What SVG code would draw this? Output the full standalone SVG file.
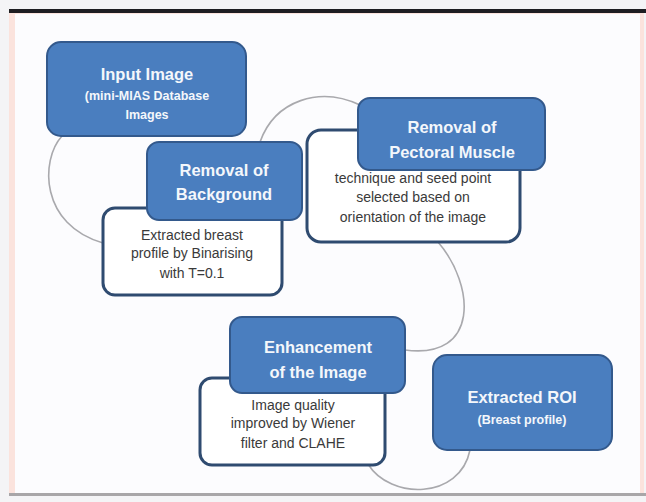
<svg xmlns="http://www.w3.org/2000/svg" width="646" height="502" viewBox="0 0 646 502">
<style>
.bg{fill:#fcfcfe}
.blue{fill:#4a7ebf;stroke:#33598c;stroke-width:2}
.white{fill:#ffffff;stroke:#2f4b70;stroke-width:3}
.t{font-family:"Liberation Sans",Arial,sans-serif;font-weight:bold;fill:#f4f7fb;text-anchor:middle}
.big{font-size:16.5px}
.small{font-size:12.5px}
.b{font-family:"Liberation Sans",Arial,sans-serif;font-size:14px;fill:#3a3a3a;text-anchor:middle}
.conn{fill:none;stroke:#a9a9ad;stroke-width:1.6}
</style>
<rect x="0" y="0" width="646" height="502" fill="#f4f4f6"/>
<rect x="9" y="12" width="635" height="484" fill="#fbe3dd"/>
<rect x="15" y="14" width="625" height="479" class="bg"/>
<rect x="9" y="9" width="637" height="4" fill="#1e1e22"/>
<rect x="9" y="493" width="637" height="3" fill="#a8a6a8"/>
<g id="connectors">
<path class="conn" d="M62,136 C40,160 40,225 103,243"/>
<path class="conn" d="M260,142 C275,100 320,86 360,105"/>
<path class="conn" d="M438,242 C475,285 480,360 405,350"/>
<path class="conn" d="M368,464 C390,500 460,500 470,450"/>
</g>
<g id="input-image">
<rect class="blue" x="47" y="42" width="199" height="94" rx="14"/>
<text class="t big" x="147" y="80">Input Image</text>
<text class="t small" x="147" y="100">(mini-MIAS Database</text>
<text class="t small" x="147" y="119">Images</text>
</g>
<g id="background-detail">
<rect class="white" x="103" y="208" width="179" height="87" rx="12"/>
<text class="b" x="192" y="240">Extracted breast</text>
<text class="b" x="192" y="258">profile by Binarising</text>
<text class="b" x="192" y="278">with T=0.1</text>
</g>
<g id="removal-background">
<rect class="blue" x="147" y="142" width="155" height="78" rx="12"/>
<text class="t big" x="224" y="176">Removal of</text>
<text class="t big" x="224" y="200">Background</text>
</g>
<g id="pectoral-detail">
<rect class="white" x="307" y="130" width="213" height="112" rx="14"/>
<text class="b" x="413" y="183">technique and seed point</text>
<text class="b" x="413" y="202">selected based on</text>
<text class="b" x="413" y="222">orientation of the image</text>
</g>
<g id="removal-pectoral">
<rect class="blue" x="358" y="98" width="187" height="72" rx="12"/>
<text class="t big" x="452" y="133">Removal of</text>
<text class="t big" x="452" y="158">Pectoral Muscle</text>
</g>
<g id="enhancement-detail">
<rect class="white" x="200" y="378" width="185" height="87" rx="12"/>
<text class="b" x="293" y="410">Image quality</text>
<text class="b" x="293" y="428">improved by Wiener</text>
<text class="b" x="293" y="448">filter and CLAHE</text>
</g>
<g id="enhancement">
<rect class="blue" x="230" y="317" width="175" height="76" rx="12"/>
<text class="t big" x="318" y="353">Enhancement</text>
<text class="t big" x="318" y="378">of the Image</text>
</g>
<g id="extracted-roi">
<rect class="blue" x="433" y="355" width="179" height="95" rx="14"/>
<text class="t big" x="522" y="403">Extracted ROI</text>
<text class="t small" x="522" y="424">(Breast profile)</text>
</g>
</svg>
